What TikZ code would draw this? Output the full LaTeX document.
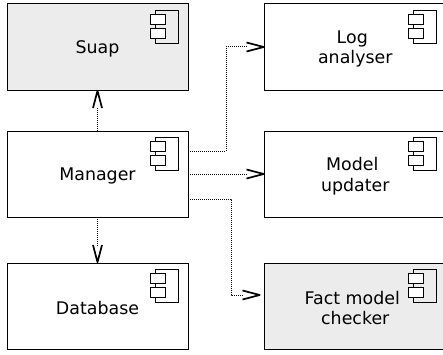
\documentclass[tikz,border=0pt]{standalone}
\usepackage{fontspec}
\setmainfont{DejaVu Sans}
\usetikzlibrary{arrows.meta}
\definecolor{shade}{HTML}{ECECEC}
\pgfdeclarearrow{
  name=OpenVee,
  setup code={
    \pgfarrowssettipend{0pt}
    \pgfarrowssetlineend{-17.5pt}
    \pgfarrowssetvisualbackend{-18pt}
    \pgfarrowssetbackend{-18pt}
    \pgfarrowshullpoint{0pt}{0pt}
    \pgfarrowshullpoint{-18pt}{4.5pt}
    \pgfarrowshullpoint{-18pt}{-4.5pt}
  },
  drawing code={
    \pgfsetdash{}{0pt}
    \pgfsetlinewidth{1.7pt}
    \pgfsetroundjoin
    \pgfsetbuttcap
    \pgfpathmoveto{\pgfqpoint{-18pt}{4.5pt}}
    \pgfpathlineto{\pgfqpoint{-0.8pt}{0pt}}
    \pgfpathlineto{\pgfqpoint{-18pt}{-4.5pt}}
    \pgfusepathqstroke
  }
}
\tikzset{
  comp/.style={draw=black,line width=1pt,minimum width=181pt,minimum height=86pt,inner sep=0pt,outer sep=0pt},
  compr/.style={comp,minimum width=181.5pt},
  lab/.style={font=\fontsize{17.4pt}{20.5pt}\selectfont,align=center,text=black,yshift=-2.2pt,inner sep=0pt},
  grey/.style={fill=shade},
  dep/.style={line width=1pt,dash pattern=on 1pt off 1pt,-{OpenVee}},
  iconpart/.style={draw=black,line width=0.9pt,fill=none}
}
\newcommand{\compicon}[1]{%
  \draw[iconpart] ([shift={(-33,-6)}]#1.north east) rectangle ([shift={(-9.5,-39)}]#1.north east);
  \draw[iconpart,fill=white] ([shift={(-37.5,-10.5)}]#1.north east) rectangle ([shift={(-23,-20)}]#1.north east);
  \draw[iconpart,fill=white] ([shift={(-37.5,-24)}]#1.north east) rectangle ([shift={(-23,-34)}]#1.north east);
}
\begin{document}
\begin{tikzpicture}[x=1pt,y=1pt]
\useasboundingbox (0,0) rectangle (443,354);
\clip (0,0) rectangle (443,354);
\node[comp,grey,label={[lab]center:Suap}] (suap) at (97.5,307) {};
\node[comp,label={[lab]center:Manager}] (man) at (97.5,180) {};
\node[comp,label={[lab]center:Database}] (db) at (97.5,48) {};
\node[compr,label={[lab]center:Log\hspace*{6pt}\\analyser}] (log) at (355.25,307) {};
\node[compr,label={[lab]center:Model\hspace*{6pt}\\updater}] (upd) at (355.25,180) {};
\node[compr,grey,label={[lab]center:Fact model\hspace*{6pt}\\checker}] (fact) at (355.25,48) {};
\compicon{suap}
\compicon{man}
\compicon{db}
\compicon{log}
\compicon{upd}
\compicon{fact}
\draw[dep] (man.north) -- (suap.south);
\draw[dep] (man.south) -- (db.north);
\draw[dep] ([yshift=23pt]man.east) -- ++(38,0) |- (log.west);
\draw[dep] (man.east) -- (upd.west);
\draw[dep] ([yshift=-25pt]man.east) -- ++(43,0) |- ([shift={(-4,11)}]fact.west);
\end{tikzpicture}
\end{document}
